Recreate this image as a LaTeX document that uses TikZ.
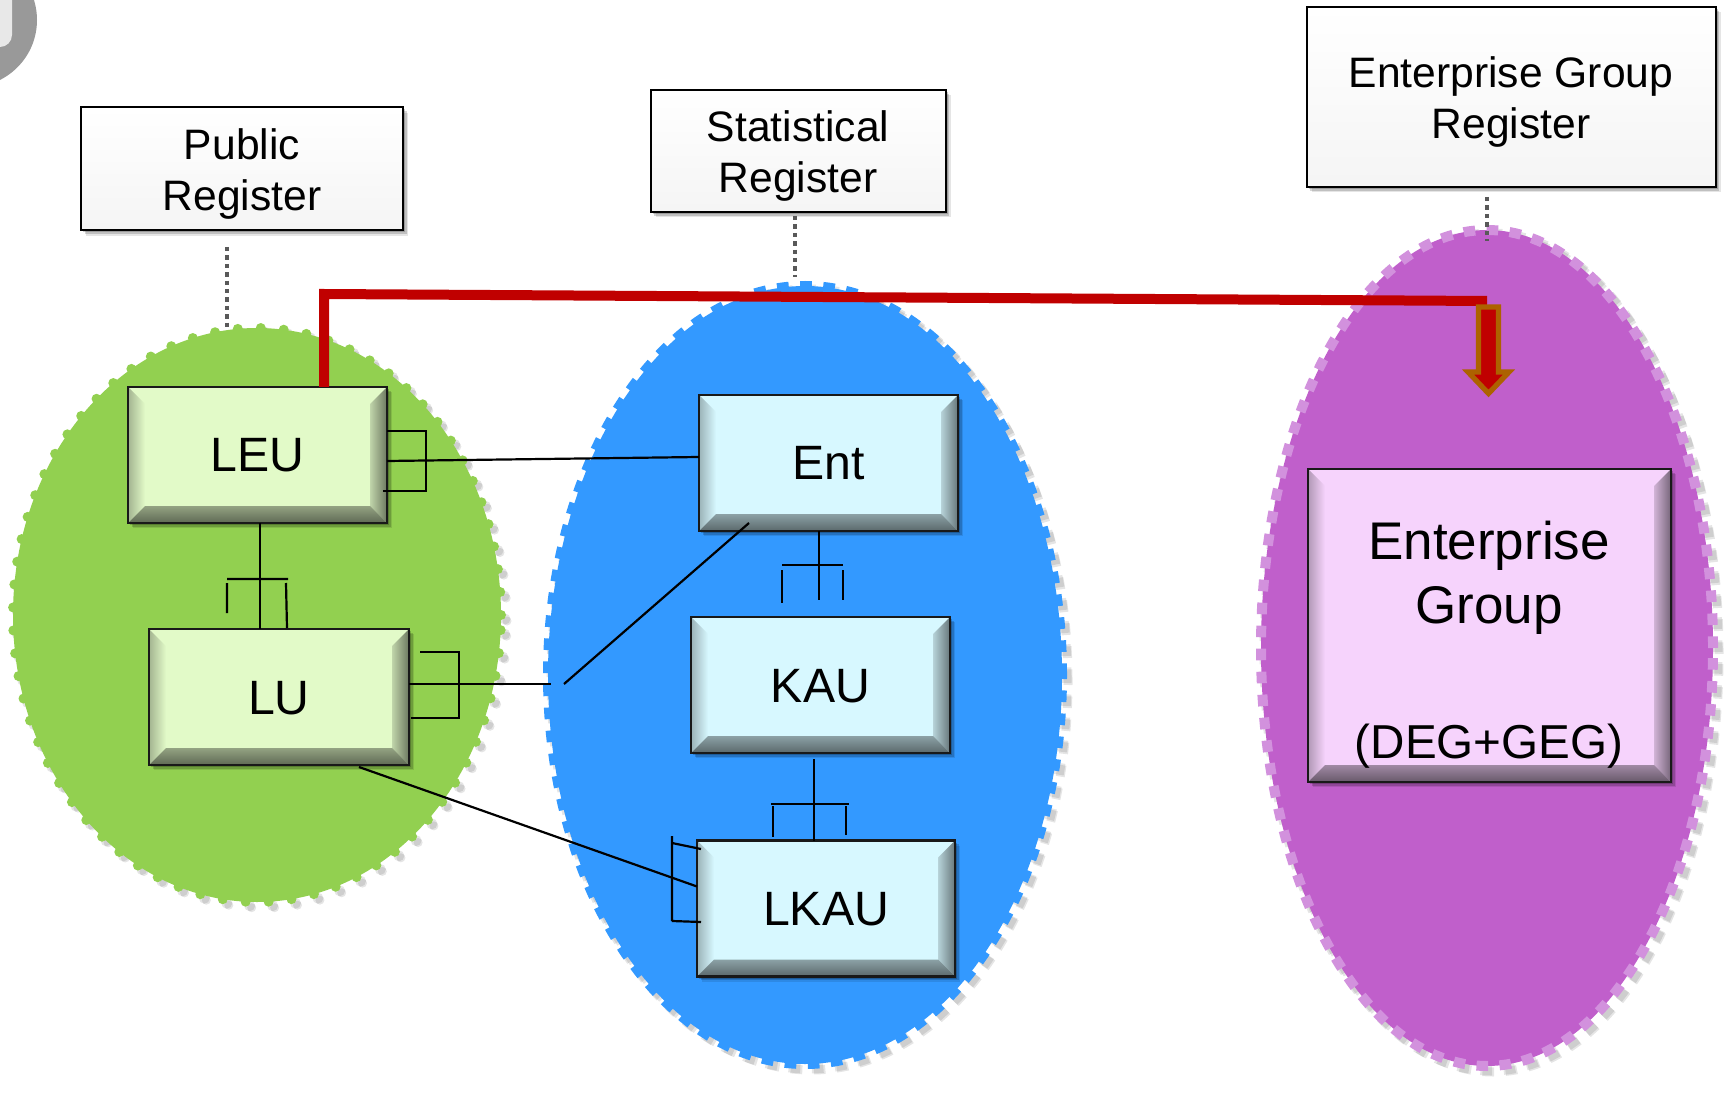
\documentclass[tikz,border=0pt]{standalone}
\usepackage{fontspec}
\setmainfont{Liberation Sans}
\usetikzlibrary{shadows,calc}
\definecolor{leafgreen}{HTML}{92D050}
\definecolor{skyblue}{HTML}{3399FF}
\definecolor{violetfill}{HTML}{C05FCB}
\definecolor{violetdash}{HTML}{D291DD}
\definecolor{redline}{HTML}{C00000}
\definecolor{arrowedge}{HTML}{AD6200}
\definecolor{greenface}{HTML}{E2FAC8}
\definecolor{blueface}{HTML}{D7F8FF}
\definecolor{pinkface}{HTML}{F6D3FC}
\definecolor{dotgrey}{HTML}{595959}
\newcommand{\bevelfill}[1]{%
  \coordinate (nw) at (path picture bounding box.north west);
  \coordinate (ne) at (path picture bounding box.north east);
  \coordinate (sw) at (path picture bounding box.south west);
  \coordinate (se) at (path picture bounding box.south east);
  \coordinate (inw) at ($(nw)+(8.5pt,-8.5pt)$);
  \coordinate (ine) at ($(ne)+(-8.5pt,-8.5pt)$);
  \coordinate (isw) at ($(sw)+(8.5pt,8.5pt)$);
  \coordinate (ise) at ($(se)+(-8.5pt,8.5pt)$);
  \shade[top color=#1,middle color=white,bottom color=#1] (nw)--(ne)--(ine)--(inw)--cycle;
  \shade[left color=#1!72!black,right color=#1] (nw)--(inw)--(isw)--(sw)--cycle;
  \shade[left color=#1!85!black,right color=#1!48!black] (ne)--(ine)--(ise)--(se)--cycle;
  \shade[top color=#1!65!black,bottom color=#1!42!black] (sw)--(isw)--(ise)--(se)--cycle;
}
\tikzset{
  x=0.5pt,y=-0.5pt,
  softshadow/.style={
    drop shadow={shadow xshift=2.6pt,shadow yshift=-2.6pt,fill=black,opacity=.10},
    drop shadow={shadow xshift=1.8pt,shadow yshift=-1.8pt,fill=black,opacity=.16},
    drop shadow={shadow xshift=1pt,shadow yshift=-1pt,fill=black,opacity=.2}},
  bevelbox/.style n args={3}{draw=black!90,line width=1.4pt,inner sep=0pt,outer sep=0pt,
    fill=#1,softshadow,minimum width=#2*0.5pt,minimum height=#3*0.5pt,
    path picture={\bevelfill{#1}},text height=17pt,text depth=0pt,font=\fontsize{24.1}{28}\selectfont},
  regbox/.style n args={2}{draw=black,line width=1pt,top color=white,bottom color=black!4,softshadow,inner sep=0pt,
    outer sep=0pt,minimum width=#1*0.5pt,minimum height=#2*0.5pt,align=center,
    font=\fontsize{21.3}{25.5}\selectfont},
  bigtext/.style={inner sep=0pt,align=center,font=\fontsize{26.5}{32}\selectfont},
  subtext/.style={inner sep=0pt,font=\fontsize{23.8}{28}\selectfont},
  link/.style={draw=black,line width=1.1pt},
  dotlink/.style={draw=dotgrey,line width=2.4pt,dash pattern=on 2.2pt off 2pt},
  redlink/.style={draw=redline,line width=5pt,line join=miter},
  dotsrim/.style={line cap=round,dash pattern=on 0pt off 11.5pt,line width=5pt},
  squaresrim/.style={dash pattern=on 5.8pt off 5.7pt,line width=5pt},
  rimshadow/.style={draw=black,opacity=.1},
}
\newcommand{\firstline}{\rule{0pt}{20.8pt}}
\begin{document}
\begin{tikzpicture}
\useasboundingbox (0,0) rectangle (1734,1101);
% corner fragment
\begin{scope}
  \clip (0,0) rectangle (60,100);
  \fill[black!40] (-30,20) circle (33.5pt);
  \fill[black!9,rounded corners=6pt] (-40,-20) rectangle (12,47);
\end{scope}
% ellipse shadows
\foreach \dd/\wd in {2pt/5.5pt,3pt/4.5pt}{
  \draw[rimshadow,dotsrim,line width=\wd] ([shift={(\dd,-\dd)}]257,615) ellipse [x radius=122pt,y radius=143.5pt];
  \draw[rimshadow,squaresrim,line width=\wd] ([shift={(\dd,-\dd)}]805,675) ellipse [x radius=128.5pt,y radius=194.5pt];
  \draw[rimshadow,squaresrim,line width=\wd] ([shift={(\dd,-\dd)}]1487,648) ellipse [x radius=113pt,y radius=209pt];
}
% ellipses
\fill[leafgreen] (257,615) ellipse [x radius=122pt,y radius=143.5pt];
\draw[leafgreen,dotsrim] (257,615) ellipse [x radius=122pt,y radius=143.5pt];
\fill[skyblue] (805,675) ellipse [x radius=128.5pt,y radius=194.5pt];
\draw[skyblue,squaresrim] (805,675) ellipse [x radius=128.5pt,y radius=194.5pt];
\fill[violetfill] (1487,648) ellipse [x radius=113pt,y radius=209pt];
\draw[violetdash,squaresrim] (1487,648) ellipse [x radius=113pt,y radius=209pt];
% register labels
\node[regbox={322}{123}] (pubreg) at (242,169) {\firstline Public\\Register};
\node[regbox={295}{122}] (statreg) at (798,151) {\firstline Statistical\\Register};
\node[regbox={409}{180}] (egreg) at (1511,97) {\firstline Enterprise Group\\Register};
% dotted tie lines
\coordinate (pubtop) at (227,247); \coordinate (pubend) at (227,328);
\coordinate (stattop) at (795,216); \coordinate (statend) at (795,277);
\coordinate (egtop) at (1487,197); \coordinate (egend) at (1487,241);
\draw[dotlink] (pubtop) -- (pubend);
\draw[dotlink] (stattop) -- (statend);
\draw[dotlink] (egtop) -- (egend);
% unit boxes
\node[bevelbox={greenface}{259}{136}] (leu) at (257.5,455) {LEU};
\node[bevelbox={greenface}{260}{136}] (lu) at (279,697) {LU};
\node[bevelbox={blueface}{259}{136}] (ent) at (828.5,463) {Ent};
\node[bevelbox={blueface}{259}{136}] (kau) at (820.5,685) {KAU};
\node[bevelbox={blueface}{258}{136}] (lkau) at (826,908.5) {LKAU};
\node[bevelbox={pinkface}{363}{313}] (egbox) at (1489.5,625.5) {};
\node[bigtext] (egname) at (1489,578) {Enterprise\\Group};
\node[subtext] (egsub) at (1489,746) {(DEG+GEG)};
% red connector and block arrow
\coordinate (redtop) at (324,294);
\coordinate (redend) at (1487,301);
\draw[redlink] ($(leu.north west)+(98pt,0)$) -- (redtop) -- (redend);
\draw[fill=redline,draw=arrowedge,line width=2.6pt,miter limit=8]
  (1478.5,307) -- (1498.5,307) -- (1498.5,372) -- (1509,372) -- (1488.5,393.5) -- (1468,372) -- (1478.5,372) -- cycle;
% connectors
\draw[link] ([xshift=1.2pt]leu.south) -- ([xshift=1.2pt]leu.south |- lu.north);
\draw[link] (227,579) -- (288,579) (227,583) -- (227,613) (286,583) -- (287,628);
\draw[link] ([yshift=-3pt]leu.east) -- ([yshift=3pt]ent.west);
\draw[link] (387,431) -- (426,431) -- (426,491) -- (383,491);
\coordinate (lustub) at (551,684);
\coordinate (entstub) at (564,684);
\draw[link] ([yshift=6.5pt]lu.east) -- (lustub);
\draw[link] (420,652) -- (459,652) -- (459,718) -- (411,718);
\draw[link] ($(ent.south west)+(25pt,4pt)$) -- (entstub);
\coordinate (entstubdown) at (819,600);
\draw[link] ([xshift=-4.75pt]ent.south) -- (entstubdown);
\draw[link] (782,565) -- (843,565) (782,570) -- (782,603) (843,570) -- (843,600);
\coordinate (kaustub) at (814,759);
\draw[link] (kaustub) -- ([xshift=-6pt]lkau.north);
\draw[link] (771,804) -- (849,804) (773,806) -- (773,837) (846,806) -- (846,835);
\draw[link] ($(lu.south east)+(-25pt,-1pt)$) -- ([yshift=11pt]lkau.west);
\draw[link] (672,836) -- (672,921) (672,843) -- (701,849) (672,921) -- (701,922);
\end{tikzpicture}
\end{document}
